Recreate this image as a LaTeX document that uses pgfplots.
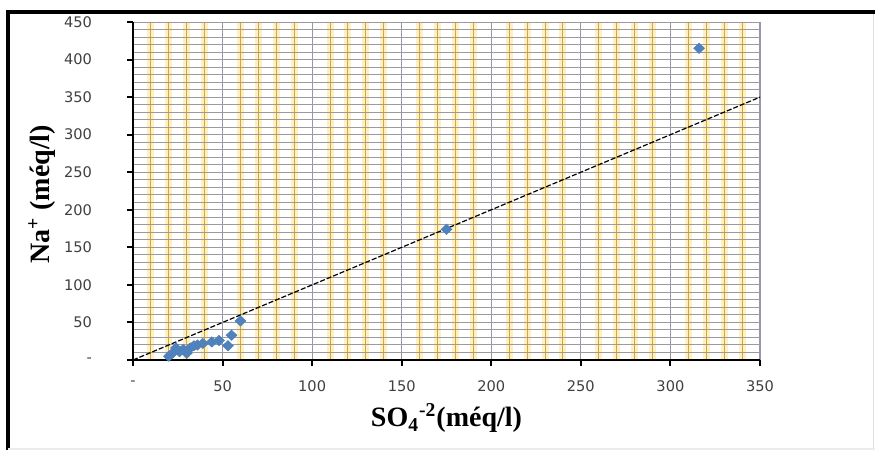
\documentclass[border=0pt]{standalone}
\usepackage{pgfplots}
\pgfplotsset{compat=1.18}
\usepackage{fontspec}
\setmainfont{Liberation Sans}
\newfontfamily\tickf{DejaVu Sans}
\newfontfamily\tnr{Liberation Serif}
\definecolor{excelblue}{RGB}{79,129,189}
\definecolor{gold}{RGB}{208,166,70}
\definecolor{glow}{RGB}{255,240,190}
\definecolor{hgrid}{RGB}{155,155,155}
\definecolor{vmajor}{RGB}{150,150,175}
\definecolor{ticktext}{RGB}{64,64,64}
\begin{document}
\begin{tikzpicture}
\useasboundingbox (0,0) rectangle (437.5pt,225pt);
\fill[white] (0,0) rectangle (437.5pt,225pt);
\begin{axis}[
  at={(66.5pt,45pt)}, anchor=south west,
  scale only axis, width=313.5pt, height=169pt,
  xmin=0, xmax=350, ymin=0, ymax=450,
  axis lines*=left,
  axis line style={black, line width=1pt},
  xtick={0,50,...,350}, ytick={0,50,...,450},
  xticklabels={{-},50,100,150,200,250,300,350},
  yticklabels={{-},50,100,150,200,250,300,350,400,450},
  minor x tick num=4, minor y tick num=4,
  grid=both,
  minor x grid style={gold, line width=0.5pt, preaction={draw=glow, line width=3.5pt}},
  major x grid style={vmajor, line width=0.6pt},
  minor y grid style={hgrid, line width=0.5pt},
  major y grid style={hgrid, line width=0.5pt},
  tick align=outside,
  major tick length=3pt, minor tick length=0pt,
  tick style={black, line width=1pt},
  ticklabel style={font=\tickf\fontsize{7.3}{8}\selectfont, text=ticktext},
  yticklabel style={xshift=-14pt},
  xticklabel style={yshift=-4pt},
  xlabel={SO\textsubscript{4}\textsuperscript{-2}(méq/l)},
  ylabel={Na\textsuperscript{+} (méq/l)},
  label style={font=\tnr\bfseries\fontsize{14}{16}\selectfont},
  xlabel style={at={(rel axis cs:0.5,-0.172)}, anchor=center},
  ylabel style={at={(rel axis cs:-0.145,0.49)}, anchor=center},
  clip=false,
]
\addplot[black, line width=0.6pt, dash pattern=on 2.5pt off 1pt] coordinates {(0,0) (350,350)};
\addplot[only marks, mark=diamond*, mark size=2.5pt, color=excelblue,
  mark options={xscale=1.4, draw=excelblue, fill=excelblue}] coordinates {
  (20,5) (22,9) (24,16) (26,11) (28,14) (30,9) (32,16) (34,19) (36,20)
  (39,22) (44,24) (48,26) (53,19) (55,33) (60,52) (175,174) (316,415)
};
\end{axis}
\draw[black, line width=2pt] (3.3pt,219pt) -- (437.5pt,219pt);
\draw[black, line width=1.5pt] (4pt,220pt) -- (4pt,0pt);
\draw[black!12, line width=0.8pt] (436.8pt,218pt) -- (436.8pt,0pt);
\draw[black!8, line width=0.8pt] (4pt,0.6pt) -- (437.5pt,0.6pt);
\end{tikzpicture}
\end{document}
